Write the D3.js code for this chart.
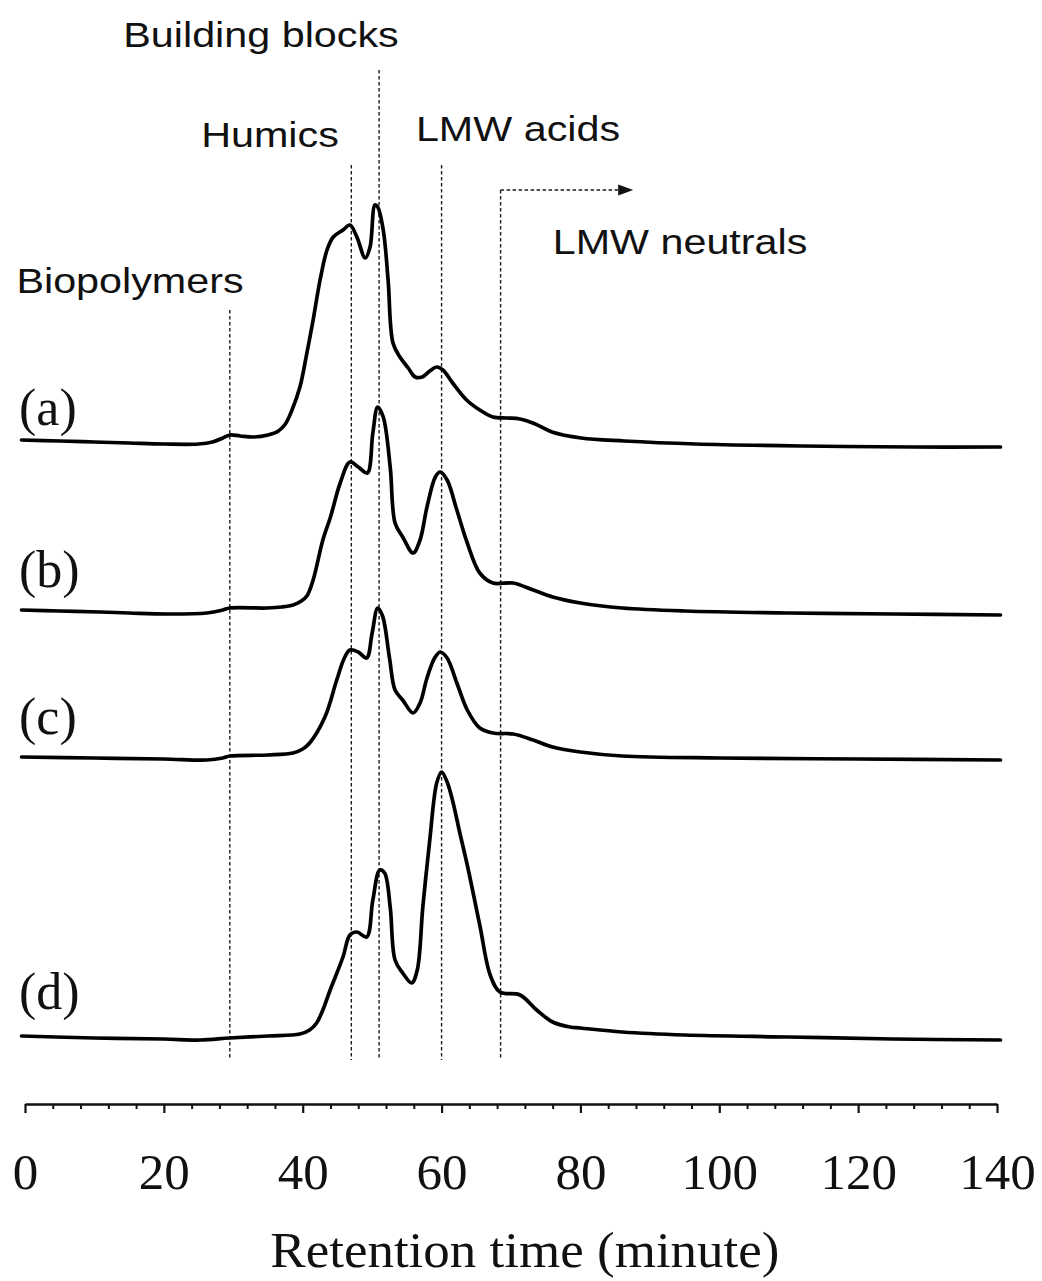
<!DOCTYPE html>
<html>
<head>
<meta charset="utf-8">
<script src="https://cdn.jsdelivr.net/npm/d3@7"></script>
<style>
  html, body { margin: 0; padding: 0; background: #fff; }
  svg { display: block; }
</style>
</head>
<body>
<svg id="chart" width="1042" height="1281"></svg>
<script>
// Size-exclusion chromatograms (LC-OCD) of four samples, stacked with vertical offsets.
// Each trace: [retention time (min), detector signal above its own baseline]
const traceA = [[-0.5,1],[5,0],[10,-1],[15,-2],[20,-3],[25,-3],[27,-1],[28.5,3],[29.5,6],[31,5],[33,4],[35,6],[36.5,10],[37.5,17],[38.4,30],[39.6,54],[40.6,88],[41.5,121],[42.5,161],[43.5,191],[44.4,204],[45.8,211],[46.8,216],[47.8,204],[49.0,183],[49.7,194],[50.4,236],[50.8,234],[51.6,211],[52.3,161],[53.0,98],[54.0,84],[55.2,73],[56.2,64],[57.2,64],[58.3,70],[59.3,74],[60.2,71],[61.6,58],[63.6,41],[65.5,31],[67.4,24],[69.4,23],[71.3,22],[73.5,17],[75.9,9],[80.1,3],[86.3,0],[96.6,-3],[112,-5],[128,-6],[140.5,-6]];
const traceB = [[-0.5,0],[5,-1],[10.8,-2],[15,-3],[20.4,-4],[26.2,-3],[28.5,0],[29.5,2],[34.8,2],[37,3],[38.6,5],[39.8,9],[40.6,14],[41.5,30],[42.9,70],[44.0,93],[45.4,127],[46.8,148],[48.0,143],[49.3,137],[50.1,177],[50.8,203],[51.6,193],[52.6,143],[53.3,87],[54.4,73],[55.9,57],[56.9,70],[57.9,103],[59.1,133],[59.8,138],[60.8,130],[62.2,100],[63.7,67],[65.5,37],[67.4,27],[70.3,27],[73.2,20],[76.0,13],[80,7],[86,2],[95,-1],[110,-3],[125,-4],[140.5,-5]];
const traceC = [[-0.5,1],[10,0],[20,-1],[26.2,-2],[28.5,0],[29.5,2],[35,3],[38.6,5],[40,9],[41,15],[43.2,41],[44.9,78],[46,100],[46.8,108],[48,106],[49.2,100],[50,125],[50.8,150],[51.5,142],[52.5,100],[53.3,68],[54.4,58],[55.9,45],[56.9,55],[57.9,80],[59,100],[59.8,106],[60.8,100],[62.2,75],[63.7,48],[65.5,30],[67.4,25],[70.3,24],[73.2,18],[76,11],[80,6],[86,2],[100,0],[120,-1],[140.5,-2]];
const traceD = [[-0.5,1],[10,-1],[20,-2],[25.2,-3],[29.5,-1],[35,1],[39.6,3],[41,7],[42,14],[42.9,27],[43.9,46],[45.8,80],[46.8,102],[47.8,105],[49.2,100],[50.1,137],[51.1,167],[51.8,164],[52.6,130],[53.3,77],[54.4,64],[55.7,54],[56.5,67],[57.3,130],[58.3,197],[59.3,254],[60.0,265],[60.8,255],[61.6,236],[62.6,205],[63.7,172],[65.5,112],[67.0,62],[68.4,45],[71.3,42],[73.7,27],[76,15],[78.5,10],[80,9],[86,5],[95,2],[110,0],[125,-2],[140.5,-3]];

const sampleLabels = ["(a)", "(b)", "(c)", "(d)"];
const sampleOffsets = [619, 450, 302, 23];

// Fraction boundaries (retention time, min) and how high each marker reaches
const fractionNames = ["Biopolymers", "Humics", "Building blocks", "LMW acids", "LMW neutrals"];
const fractionTimes = [29.5, 47, 51, 60, 68.5];
const fractionTops = [750, 895, 990, 895, 870];

const majorTicks = [0, 20, 40, 60, 80, 100, 120, 140];
const minorStep = 4;
const axisTitle = "Retention time (minute)";

const svg = d3.select("#chart");
const x = d3.scaleLinear().domain([0, 140]).range([25, 997]);
const y = d3.scaleLinear().domain([0, 1000]).range([1060, 60]);

// ---- fraction markers (dashed verticals) ----
const dash = "3.5,2.5";
svg.append("g").selectAll("line")
  .data(fractionTimes)
  .join("line")
  .attr("x1", d => x(d)).attr("x2", d => x(d))
  .attr("y1", (d, i) => y(fractionTops[i])).attr("y2", y(0))
  .attr("stroke", "#1a1a1a").attr("stroke-width", 1.4)
  .attr("stroke-dasharray", dash);

// LMW neutrals: arrow pointing to later retention times
const arrowY = y(fractionTops[4]);
const arrowEnd = 87.6;
svg.append("line")
  .attr("x1", x(fractionTimes[4])).attr("x2", x(arrowEnd) - 12)
  .attr("y1", arrowY).attr("y2", arrowY)
  .attr("stroke", "#1a1a1a").attr("stroke-width", 1.4)
  .attr("stroke-dasharray", dash);
svg.append("path")
  .attr("d", `M${x(arrowEnd)},${arrowY} l-15,-5.5 l0,11 z`)
  .attr("fill", "#111");

// ---- fraction labels ----
const sansFont = "'Liberation Sans', Arial, sans-serif";
const labelLayout = [
  { cx: 130, by: 293 },
  { cx: 270, by: 147 },
  { cx: 261, by: 47 },
  { cx: 518, by: 141 },
  { cx: 680, by: 254 }
];
svg.append("g").selectAll("text")
  .data(fractionNames)
  .join("text")
  .attr("transform", (d, i) => `translate(${labelLayout[i].cx},${labelLayout[i].by}) scale(1.18,1)`)
  .attr("text-anchor", "middle")
  .attr("font-family", sansFont)
  .attr("font-size", 35)
  .attr("fill", "#111")
  .text(d => d);

// ---- chromatograms ----
const traces = [traceA, traceB, traceC, traceD];
const line = d3.line().curve(d3.curveCatmullRom.alpha(0.5));
svg.append("g").selectAll("path")
  .data(traces)
  .join("path")
  .attr("d", (tr, i) => line(tr.map(p => [x(p[0]), y(sampleOffsets[i] + p[1])])))
  .attr("fill", "none")
  .attr("stroke", "#000")
  .attr("stroke-width", 3.7)
  .attr("stroke-linejoin", "round")
  .attr("stroke-linecap", "round");

// ---- sample labels ----
const serifFont = "'Liberation Serif', 'Times New Roman', serif";
const sampleLabelY = [425, 587, 734, 1009];
svg.append("g").selectAll("text")
  .data(sampleLabels)
  .join("text")
  .attr("x", 19)
  .attr("y", (d, i) => sampleLabelY[i])
  .attr("font-family", serifFont)
  .attr("font-size", 52)
  .attr("fill", "#111")
  .text(d => d);

// ---- x axis ----
const axisY = 1104;
const minorTicks = d3.range(0, 140 + 0.001, minorStep).filter(v => !majorTicks.includes(v));
const axisG = svg.append("g").attr("transform", `translate(0,${axisY})`);
axisG.call(d3.axisBottom(x).tickValues(minorTicks).tickSize(5).tickFormat(""))
  .call(g => g.select(".domain").remove());
axisG.selectAll(".tick line").attr("stroke", "#111").attr("stroke-width", 2);

const majorG = svg.append("g").attr("transform", `translate(0,${axisY})`);
majorG.call(d3.axisBottom(x).tickValues(majorTicks).tickSize(9).tickSizeOuter(0).tickPadding(40))
  .call(g => g.select(".domain").attr("stroke", "#111").attr("stroke-width", 2.7));
majorG.selectAll(".tick line").attr("stroke", "#111").attr("stroke-width", 2.2);
majorG.selectAll(".tick text")
  .attr("font-family", serifFont)
  .attr("font-size", 51)
  .attr("fill", "#111")
  .attr("dy", "0.71em");

svg.append("text")
  .attr("transform", `translate(${x(72)},1267) scale(1.06,1)`)
  .attr("text-anchor", "middle")
  .attr("font-family", serifFont)
  .attr("font-size", 50)
  .attr("fill", "#111")
  .text(axisTitle);
</script>
</body>
</html>
